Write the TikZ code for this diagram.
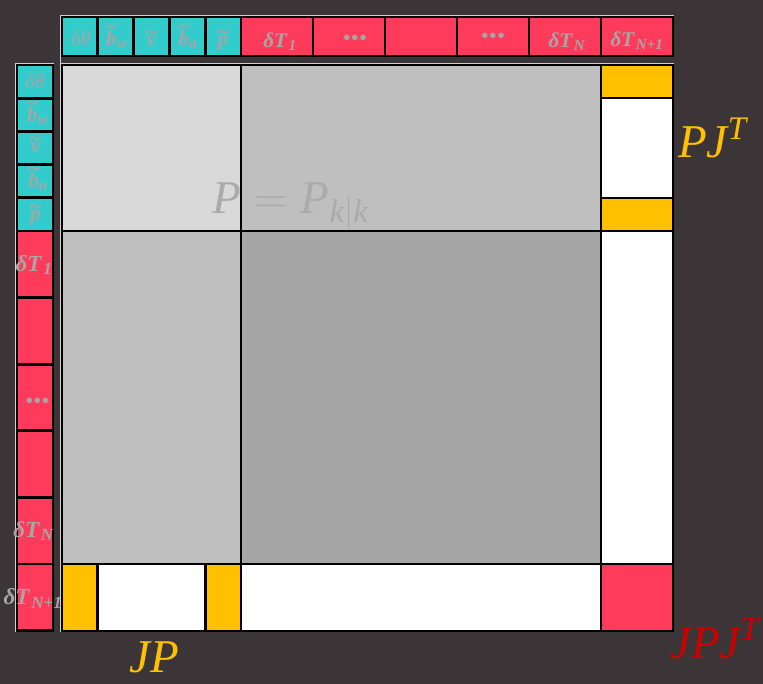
\RequirePackage{fix-cm}
\documentclass[tikz,border=0pt]{standalone}
\usepackage{amsmath}
\usepackage{fontspec}
\setmainfont{Liberation Serif}
\newcommand{\lii}[1]{\text{\itshape #1}}
\newcommand{\tild}[2]{\text{\ooalign{\bfseries\itshape #1\cr\hidewidth\raisebox{#2}{\fontsize{23}{23}\selectfont\bfseries\char"7E}\hidewidth\cr}}}
\newcommand{\sbi}[2]{\text{\fontsize{#1}{#1}\selectfont\bfseries\itshape #2}}
\newcommand{\dT}[2]{\text{\bfseries\itshape δT}_{\mkern2mu\sbi{#1}{#2}}}
\definecolor{bg}{HTML}{3C3537}
\definecolor{tl}{HTML}{33CCCC}
\definecolor{rd}{HTML}{FF3B5C}
\definecolor{yl}{HTML}{FFC000}
\definecolor{lab}{HTML}{A6A6A6}
\definecolor{jred}{HTML}{CC0000}
\definecolor{ga}{HTML}{D9D9D9}
\definecolor{gb}{HTML}{BFBFBF}
\definecolor{gc}{HTML}{A6A6A6}
\definecolor{ptext}{HTML}{ABABAB}
\definecolor{edge}{HTML}{D0D0D0}
\begin{document}
\begin{tikzpicture}[x=1pt,y=-1pt,
  cell/.style={draw=black, line width=2.8pt, inner sep=0pt, outer sep=0pt},
  tcell/.style={cell, minimum height=39pt},
  lcell/.style={cell, minimum width=36pt},
  lbl/.style={text=lab, font=\fontsize{21}{21}\selectfont, inner sep=0pt},
  lblb/.style={text=lab, font=\fontsize{23}{23}\selectfont, inner sep=0pt},
  dots/.style={text=lab, font=\fontsize{23}{23}\selectfont, inner sep=0pt},
  big/.style={font=\fontsize{47}{47}\selectfont, inner sep=0pt},
  lit/.style={draw=edge, line width=1pt}]
\fill[bg] (0,0) rectangle (763,684);
\useasboundingbox (0,0) rectangle (763,684);

% light edges
\draw[lit] (60.5,632) -- (60.5,15.8) -- (674,15.8);
\draw[lit] (60.5,632) -- (60.5,63.6) -- (674,63.6);
\draw[lit] (15.6,632) -- (15.6,63.6) -- (54,63.6);

% top row cells
\node[tcell, fill=tl, minimum width=35.8pt] (t1) at (79.9,36.5) {};
\node[tcell, fill=tl, minimum width=35.8pt] (t2) at (115.7,36.5) {};
\node[tcell, fill=tl, minimum width=35.8pt] (t3) at (151.5,36.5) {};
\node[tcell, fill=tl, minimum width=35.8pt] (t4) at (187.3,36.5) {};
\node[tcell, fill=tl, minimum width=35.8pt] (t5) at (223.1,36.5) {};
\node[tcell, fill=rd, minimum width=72pt] (t6) at (277,36.5) {};
\node[tcell, fill=rd, minimum width=72pt] (t7) at (349,36.5) {};
\node[tcell, fill=rd, minimum width=72pt] (t8) at (421,36.5) {};
\node[tcell, fill=rd, minimum width=72pt] (t9) at (493,36.5) {};
\node[tcell, fill=rd, minimum width=72pt] (t10) at (565,36.5) {};
\node[tcell, fill=rd, minimum width=72pt] (t11) at (637,36.5) {};
% top row labels
\node[lbl] (tx1) at (81,38) {$\lii{δθ}$};
\node[lbl] (tx2) at (117,40) {$\tild{b}{10.8pt}_{\sbi{16}{w}}$};
\node[lbl] (tx3) at (151.5,42) {$\tild{v}{6pt}$};
\node[lbl] (tx4) at (188,40) {$\tild{b}{10.8pt}_{\sbi{16}{a}}$};
\node[lbl] (tx5) at (223,41) {$\tild{p}{6pt}$};
\node[lbl] (tx6) at (280,41.5) {$\dT{15}{1}$};
\node[dots] (tx7) at (355,40.5) {•••};
\node[dots] (tx9) at (493,38) {•••};
\node[lbl] (tx10) at (567,42) {$\dT{15}{N}$};
\node[lbl] (tx11) at (637,41) {$\dT{15}{N+1}$};

% left column cells
\node[lcell, fill=tl, minimum height=33.2pt] (l1) at (35,81.6) {};
\node[lcell, fill=tl, minimum height=33.2pt] (l2) at (35,114.8) {};
\node[lcell, fill=tl, minimum height=33.2pt] (l3) at (35,148) {};
\node[lcell, fill=tl, minimum height=33.2pt] (l4) at (35,181.2) {};
\node[lcell, fill=tl, minimum height=33.2pt] (l5) at (35,214.4) {};
\node[lcell, fill=rd, minimum height=66.6pt] (l6) at (35,264.3) {};
\node[lcell, fill=rd, minimum height=66.6pt] (l7) at (35,330.9) {};
\node[lcell, fill=rd, minimum height=66.6pt] (l8) at (35,397.5) {};
\node[lcell, fill=rd, minimum height=66.6pt] (l9) at (35,464.1) {};
\node[lcell, fill=rd, minimum height=66.6pt] (l10) at (35,530.7) {};
\node[lcell, fill=rd, minimum height=66.6pt] (l11) at (35,597.3) {};
% left column labels
\node[lbl] (lx1) at (35,81.5) {$\lii{δθ}$};
\node[lbl] (lx2) at (38,115.5) {$\tild{b}{10.8pt}_{\sbi{16}{w}}$};
\node[lbl] (lx3) at (35.5,148) {$\tild{v}{6pt}$};
\node[lbl] (lx4) at (38,182) {$\tild{b}{10.8pt}_{\sbi{16}{a}}$};
\node[lbl] (lx5) at (35.5,216) {$\tild{p}{6pt}$};
\node[lblb] (lx6) at (34,265) {$\dT{17}{1}$};
\node[dots] (lx8) at (37.5,403) {•••};
\node[lblb] (lx10) at (33.5,531) {$\dT{17}{N}$};
\node[lblb] (lx11) at (33,598.5) {$\dT{17}{N+1}$};

% main matrix
\node[cell, fill=ga, minimum width=179pt, minimum height=166pt] (m11) at (151.5,148) {};
\node[cell, fill=gb, minimum width=360pt, minimum height=166pt] (m12) at (421,148) {};
\node[cell, fill=gb, minimum width=179pt, minimum height=333pt] (m21) at (151.5,397.5) {};
\node[cell, fill=gc, minimum width=360pt, minimum height=333pt] (m22) at (421,397.5) {};
\node[cell, fill=yl, minimum width=72pt, minimum height=33pt] (r1) at (637,81.5) {};
\node[cell, fill=white, minimum width=72pt, minimum height=100pt] (r2) at (637,148) {};
\node[cell, fill=yl, minimum width=72pt, minimum height=33pt] (r3) at (637,214.5) {};
\node[cell, fill=white, minimum width=72pt, minimum height=333pt] (r4) at (637,397.5) {};
\node[cell, fill=rd, minimum width=72pt, minimum height=67pt] (r5) at (637,597.5) {};
\node[cell, fill=yl, minimum width=35.8pt, minimum height=67pt] (b1) at (79.9,597.5) {};
\node[cell, fill=white, minimum width=107.4pt, minimum height=67pt] (b2) at (151.5,597.5) {};
\node[cell, fill=yl, minimum width=35.8pt, minimum height=67pt] (b3) at (223.1,597.5) {};
\node[cell, fill=white, minimum width=360pt, minimum height=67pt] (b4) at (421,597.5) {};

% labels
\node[big, text=ptext, anchor=base west] (pk) at (212,214) {$\lii{P}=\lii{P}_{\lii{k}|\lii{k}}$};
\node[big, text=yl, anchor=base west] (pjt) at (678,158) {$\lii{PJ}^{\lii{T}}$};
\node[big, text=yl, anchor=base west] (jp) at (129,672) {$\lii{JP}$};
\node[big, text=jred, anchor=base west] (jpjt) at (670,658) {$\lii{JPJ}^{\lii{T}}$};
\end{tikzpicture}
\end{document}
